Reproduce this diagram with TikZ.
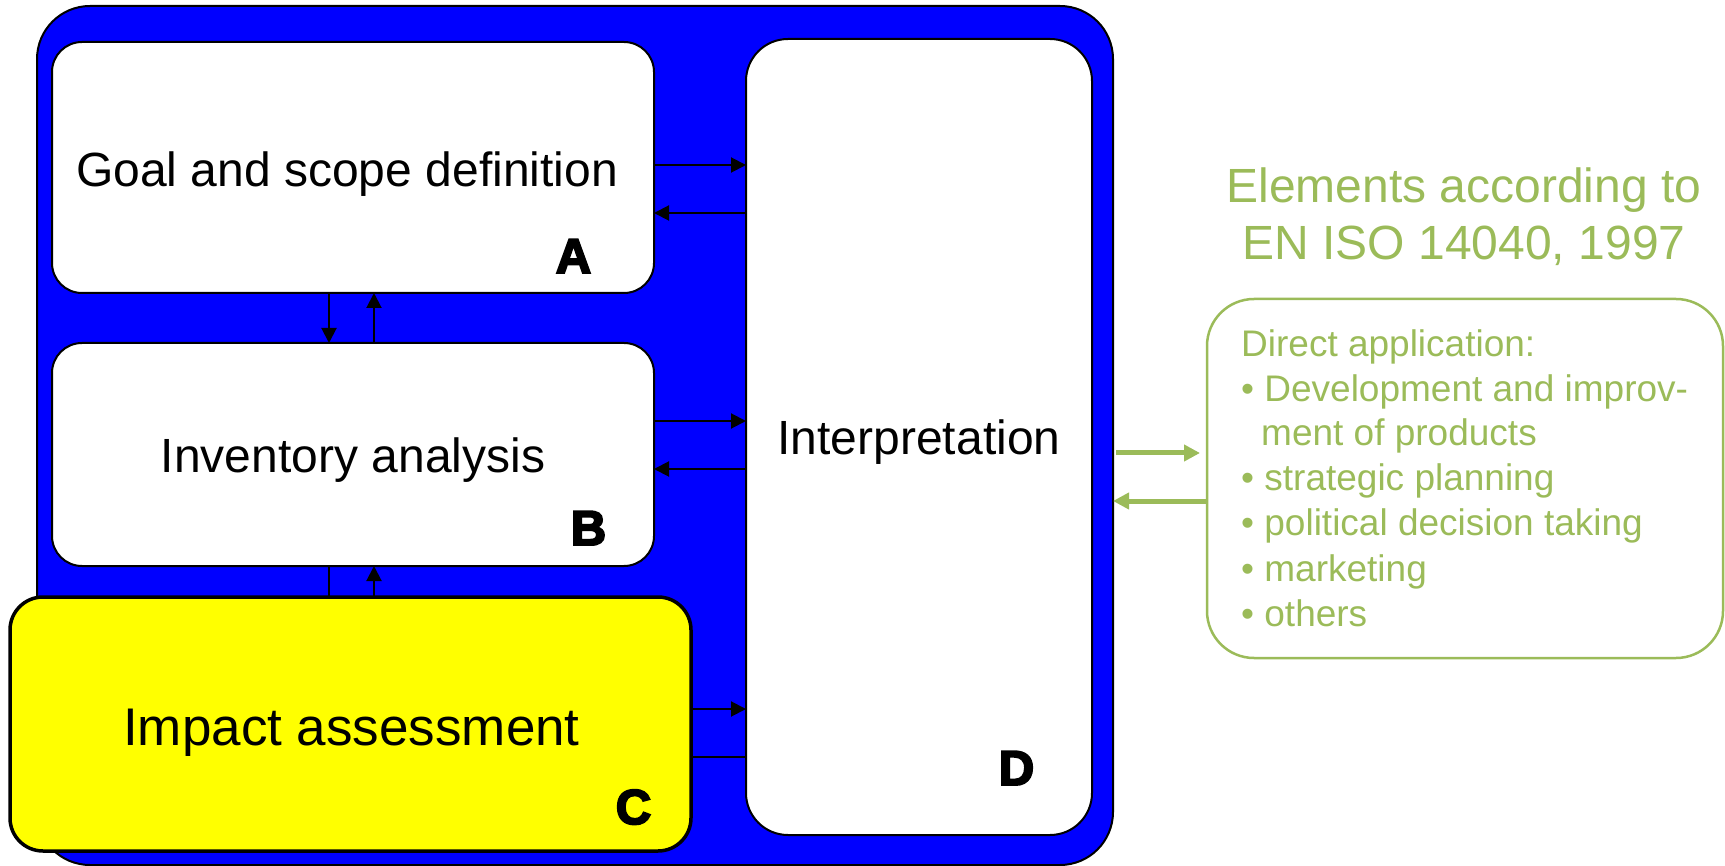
\documentclass[tikz,border=0pt]{standalone}
\usepackage{fontspec}
\setmainfont{Liberation Sans}
\newfontfamily\heavyfont{Liberation Sans}[BoldFeatures={FakeBold=4}]
\usetikzlibrary{arrows.meta}

\definecolor{frameblue}{RGB}{0,0,255}
\definecolor{stageyellow}{RGB}{255,255,0}
\definecolor{isogreen}{RGB}{155,187,89}

\begin{document}
\begin{tikzpicture}[x=1pt,y=-1pt,
  stagebox/.style={rectangle, draw=black, line width=2pt, fill=white,
    inner sep=0pt, outer sep=0pt},
  stagetext/.style={inner sep=0pt, anchor=base, font=\fontsize{48}{57}\selectfont},
  lettermark/.style={inner sep=0pt, anchor=base, font=\heavyfont\bfseries\fontsize{49}{57}\selectfont},
  flow/.style={draw=black, line width=2pt, -{Triangle[length=15pt,width=15pt]}},
  link/.style={draw=black, line width=2pt},
  greenflow/.style={draw=isogreen, line width=5pt, -{Triangle[length=16pt,width=16pt]}},
  isotext/.style={inner sep=0pt, text=isogreen, font=\fontsize{37}{44}\selectfont},
]
\useasboundingbox (0,0) rectangle (1725,866);

% frame holding the four phases
\node[rectangle, draw=black, line width=2pt, fill=frameblue, rounded corners=53pt,
  minimum width=1076pt, minimum height=859pt, inner sep=0pt, outer sep=0pt]
  (O) at (575,435.5) {};

% phases
\node[stagebox, rounded corners=30pt, minimum width=602pt, minimum height=251pt] (A) at (353,167.5) {};
\node[stagebox, rounded corners=30pt, minimum width=602pt, minimum height=223pt] (B) at (353,454.5) {};
\node[stagebox, rounded corners=42pt, minimum width=346pt, minimum height=796pt] (D) at (919,437) {};
\node[stagebox, fill=stageyellow, line width=3.5pt, rounded corners=33pt,
  minimum width=681pt, minimum height=254pt] (C) at (350.5,724) {};

\node[stagetext] (ta) at (347,187) {Goal and scope definition};
\node[stagetext] (tb) at (353,473) {Inventory analysis};
\node[stagetext, font=\fontsize{53}{60}\selectfont] (tc) at (351.5,745) {Impact assessment};
\node[stagetext] (td) at (919,455) {Interpretation};

\node[lettermark] (la) at (573.5,273) {A};
\node[lettermark] (lb) at (588.5,545) {B};
\node[lettermark] (lc) at (633.5,824) {C};
\node[lettermark] (ld) at (1016.5,785) {D};

% exchanges between the phases
\draw[flow] (A.east |- 0,165) -- (D.west |- 0,165);
\draw[flow] (D.west |- 0,213) -- (A.east |- 0,213);
\draw[flow] (B.east |- 0,421) -- (D.west |- 0,421);
\draw[flow] (D.west |- 0,469) -- (B.east |- 0,469);
\draw[flow] (C.east |- 0,709) -- (D.west |- 0,709);
\draw[link] (C.east |- 0,757) -- (D.west |- 0,757);

\draw[flow] (A.south -| 329,0) -- (B.north -| 329,0);
\draw[flow] (B.north -| 374,0) -- (A.south -| 374,0);
\draw[link] (B.south -| 329,0) -- (C.north -| 329,0);
\draw[flow] (C.north -| 374,0) -- (B.south -| 374,0);

% applications
\node[isotext, anchor=base, font=\fontsize{48}{57}\selectfont] (h1) at (1464,203) {Elements according to};
\node[isotext, anchor=base, font=\fontsize{48}{57}\selectfont] (h2) at (1464,260) {EN ISO 14040, 1997};

\node[rectangle, draw=isogreen, line width=2.5pt, rounded corners=47pt,
  minimum width=516pt, minimum height=359pt, inner sep=0pt, outer sep=0pt]
  (G) at (1465,478.5) {};

\node[isotext, anchor=base west] (g1) at (1241,357) {Direct application:};
\node[isotext, anchor=base west] (g2) at (1241,402) {• Development and improv-};
\node[isotext, anchor=base west] (g3) at (1261,446) {ment of products};
\node[isotext, anchor=base west] (g4) at (1241,490) {• strategic planning};
\node[isotext, anchor=base west] (g5) at (1241,535) {• political decision taking};
\node[isotext, anchor=base west] (g6) at (1241,581) {• marketing};
\node[isotext, anchor=base west] (g7) at (1241,626) {• others};

\draw[greenflow] ([xshift=3pt]O.east |- 0,453) -- ([xshift=-7pt]G.west |- 0,453);
\draw[greenflow] (G.west |- 0,501) -- (O.east |- 0,501);
\end{tikzpicture}
\end{document}
